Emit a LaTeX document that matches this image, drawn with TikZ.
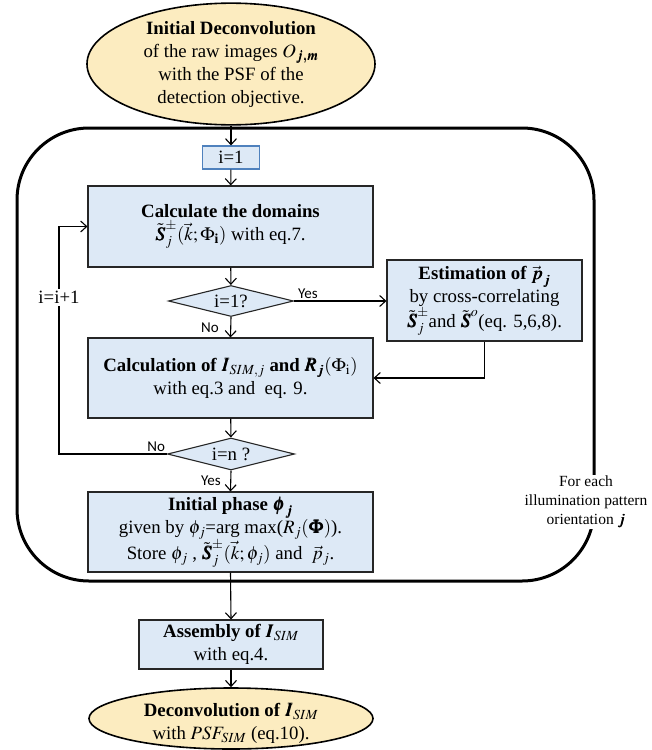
\documentclass[tikz,border=0pt]{standalone}
\usepackage{mathptmx}
\usepackage{bm}
\usepackage{fontspec}
\setmainfont{Liberation Serif}
\newfontfamily\labfont{Carlito}
\usetikzlibrary{shapes.geometric,arrows.meta}
\definecolor{procfill}{RGB}{221,233,246}
\definecolor{termfill}{RGB}{252,236,192}
\definecolor{iblue}{RGB}{79,129,189}
\tikzset{
  txt/.style={font=\fontsize{18.8}{23}\selectfont},
  proc/.style={txt, draw=black!85, line width=1.1pt, fill=procfill, align=center, inner sep=0pt},
  term/.style={txt, ellipse, draw=black, line width=1.6pt, fill=termfill, align=center, inner sep=0pt},
  dec/.style={txt, diamond, aspect=4, draw=black!85, line width=1.1pt, fill=procfill, inner sep=0pt},
  arr/.style={-{Straight Barb[length=6pt,width=11pt]}, line width=1.1pt},
  lab/.style={font=\labfont\fontsize{15}{17}\selectfont, inner sep=1.5pt},
  frame/.style={line width=3pt, rounded corners=72pt}
}
\begin{document}
\begin{tikzpicture}[x=1pt,y=-1pt]
\useasboundingbox (0,0) rectangle (651,750);
\draw[frame] (17,128) rectangle (594,581);
\node[term, minimum width=288, minimum height=114] (start) at (231,64)
  {\textbf{Initial Deconvolution}\\of the raw images $O_{\bm{j,m}}$\\with the PSF of the\\detection objective.};
\node[proc, draw=iblue, minimum width=57, minimum height=23] (i1) at (231,157.5) {i=1};
\node[proc, minimum width=285, minimum height=81] (dom) at (230.5,226.5)
  {\textbf{Calculate the domains}\\$\tilde{\bm S}_j^{\pm}(\vec k;\Phi_{\mathbf i})$ with eq.7.};
\node[dec, minimum width=125, minimum height=31] (d1) at (231,301) {i=1?};
\node[proc, minimum width=195, minimum height=81] (est) at (484.5,300.5)
  {\textbf{Estimation of} $\bm{\vec p_j}$\\by cross-correlating\\$\tilde{\bm S}_j^{\pm}$and $\tilde{\bm S}^o$(eq. 5,6,8).};
\node[proc, minimum width=285, minimum height=80] (cal) at (230.5,378)
  {\textbf{Calculation of} $\bm{I_{SIM,j}}$ \textbf{and} $\bm{R_j}(\Phi_{\mathrm i})$\\with eq.3 and\ \ eq. 9.};
\node[dec, minimum width=127, minimum height=32] (d2) at (231,454) {i=n ?};
\node[proc, minimum width=285, minimum height=80] (ini) at (230.5,532)
  {\textbf{Initial phase} $\bm{\phi_j}$\\given by $\phi_j$=arg max($R_j(\bm\Phi)$).\\Store $\phi_j$ , $\tilde{\bm S}_j^{\pm}(\vec k;\phi_j)$ and\ \ $\vec p_j$.};
\node[proc, minimum width=184, minimum height=49] (asm) at (231,644.5)
  {\textbf{Assembly of} $\bm{I_{SIM}}$\\with eq.4.};
\node[term, minimum width=284, minimum height=61] (end) at (231,718.5) {};
\node[txt, align=center, inner sep=0pt] (endtxt) at (231,723)
  {\textbf{Deconvolution of} $\bm{I_{SIM}}$\\with $PSF_{SIM}$ (eq.10).};
\node[txt, font=\fontsize{15.5}{19}\selectfont, fill=white, align=center, inner sep=1pt] (side) at (586,502)
  {For each\\illumination pattern\\orientation $\bm{j}$};
\coordinate (lb) at (59,454);
\coordinate (lt) at (59,226.5);
\draw[arr] (start.south) -- (i1.north);
\draw[arr] (i1) -- (dom);
\draw[arr] (dom) -- (d1);
\draw[arr] (d1.east) -- node[lab, above, pos=0.15] {Yes} (d1.east -| est.west);
\draw[arr] (d1.south) -- node[lab, left, xshift=-10pt] {No} (cal.north);
\draw[arr] (est.south) |- (cal.east);
\draw[arr] (cal) -- (d2);
\draw[arr] (d2.south) -- node[lab, left, xshift=-8pt] {Yes} (ini.north);
\draw[arr] (d2.west) -- node[lab, above, pos=0.1] {No} (lb) -- node[txt, fill=white, pos=0.687, inner sep=2pt] {i=i+1} (lt) -- (dom.west);
\draw[arr] (ini.south) -- (asm.north);
\draw[arr] (asm) -- (end);
\end{tikzpicture}
\end{document}
